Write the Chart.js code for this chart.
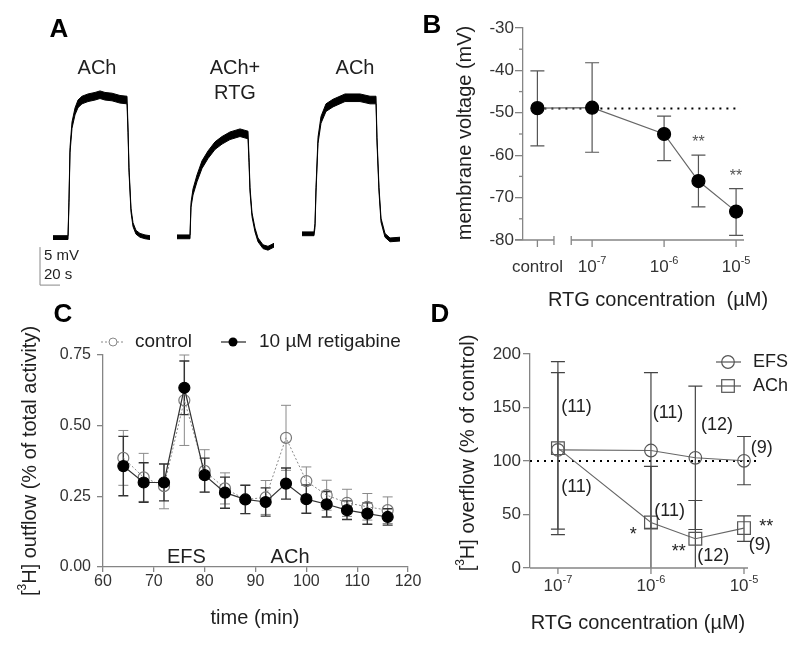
<!DOCTYPE html>
<html>
<head>
<meta charset="utf-8">
<title>Retigabine figure</title>
<script src="https://cdn.jsdelivr.net/npm/chart.js@4.4.1/dist/chart.umd.min.js"></script>
<style>
  body { margin: 0; background: #fff; }
  #fig { position: relative; width: 800px; height: 648px; }
  #fig canvas { position: absolute; left: 0; top: 0; }
</style>
</head>
<body>
<div id="fig">
  <canvas id="chartA" width="800" height="648"></canvas>
  <canvas id="chartB" width="800" height="648"></canvas>
  <canvas id="chartC" width="800" height="648"></canvas>
  <canvas id="chartD" width="800" height="648"></canvas>
</div>
<script>
const FONT = '"Liberation Sans", Arial, sans-serif'
const INK = '#1f1f1f'
const AXIS = '#858585'

// A: voltage traces, time (s) vs depolarisation from rest (mV); noise = half width of the trace band
const ach1Time = [23, 30, 38, 39, 40, 42, 45, 48, 52, 58, 65, 70, 75, 82, 90, 97, 98, 99, 101, 103, 106, 110, 115, 120]
const ach1Volt = [0, 0, 0, 4.9, 11.5, 14.8, 16.6, 17.6, 18.1, 18.4, 18.6, 18.8, 18.6, 18.5, 18.2, 18.1, 14.2, 8.9, 3.6, 1.7, 0.7, 0.3, 0.1, 0]
const ach1Noise = [0.25, 0.25, 0.25, 0.3, 0.35, 0.4, 0.45, 0.5, 0.5, 0.5, 0.5, 0.5, 0.5, 0.5, 0.5, 0.5, 0.35, 0.3, 0.25, 0.25, 0.25, 0.25, 0.25, 0.25]
const rtgTime = [147, 155, 160, 161, 163, 167, 172, 178, 185, 192, 200, 210, 218, 219, 220, 222, 225, 228, 233, 238, 244]
const rtgVolt = [0.1, 0.1, 0.1, 4.3, 6.0, 7.8, 9.6, 10.9, 12.1, 12.8, 13.4, 13.8, 13.5, 10.2, 6.3, 3.0, 1.0, -0.3, -1.2, -1.4, -1.0]
const rtgNoise = [0.25, 0.25, 0.25, 0.3, 0.4, 0.45, 0.5, 0.5, 0.5, 0.5, 0.5, 0.5, 0.5, 0.35, 0.3, 0.25, 0.25, 0.25, 0.25, 0.25, 0.25]
const ach2Time = [272, 280, 284, 285, 286, 288, 291, 296, 303, 315, 330, 340, 346, 347, 349, 351, 355, 360, 370]
const ach2Volt = [0.5, 0.5, 0.5, 1.6, 6.3, 12.8, 15.5, 17.1, 17.7, 18.4, 18.4, 18.1, 18.1, 12.8, 6.3, 2.3, 0.3, -0.3, -0.2]
const ach2Noise = [0.25, 0.25, 0.25, 0.25, 0.3, 0.4, 0.45, 0.5, 0.5, 0.5, 0.5, 0.5, 0.5, 0.35, 0.3, 0.25, 0.25, 0.25, 0.25]

// B: membrane voltage vs log10 RTG concentration (control drawn left of the axis break)
const bConcLog = [-7.76, -7, -6, -5.523, -5]
const bVolt = [-48.9, -48.8, -55.0, -66.1, -73.3]
const bHi = [-40.1, -38.2, -50.8, -60.0, -67.9]
const bLo = [-57.8, -59.3, -61.3, -72.2, -78.9]
const bTickPos = [-7.76, -7, -6, -5]
const bTickExp = ['', '-7', '-6', '-5']
const bStars = [['**', -5.523, -57.0], ['**', -5, -65.0]]

// C: [3H] outflow over time
const cTime = [64, 68, 72, 76, 80, 84, 88, 92, 96, 100, 104, 108, 112, 116]
const cControl = [0.386, 0.317, 0.286, 0.59, 0.34, 0.278, 0.239, 0.246, 0.457, 0.304, 0.254, 0.227, 0.213, 0.201]
const cControlSem = [0.097, 0.085, 0.08, 0.16, 0.075, 0.055, 0.05, 0.06, 0.115, 0.05, 0.053, 0.048, 0.047, 0.047]
const cRtg = [0.357, 0.299, 0.299, 0.634, 0.325, 0.263, 0.239, 0.23, 0.295, 0.24, 0.222, 0.201, 0.189, 0.177]
const cRtgSem = [0.105, 0.07, 0.065, 0.095, 0.06, 0.055, 0.05, 0.05, 0.055, 0.05, 0.045, 0.033, 0.038, 0.029]

// D: overflow (% of control) vs log10 RTG concentration
const dConcLog = [-7, -6, -5.523, -5]
const dEfs = [110.4, 109.8, 103, 100.2]
const dEfsHi = [192.8, 182.6, 170, 122.9]
const dEfsLo = [31.1, 37, 36, 77.8]
const dAch = [112, 42.6, 27.4, 37.3]
const dAchHi = [182.6, 94.9, 63.1, 48.8]
const dAchLo = [36.4, -9.7, -8.3, 24.9]
const dTickPos = [-7, -6, -5]
const dTickExp = ['-7', '-6', '-5']
const dNotes = [
  ['(11)', -6.80, 150.5], ['(11)', -6.80, 75.7], ['(11)', -5.817, 144.9], ['(12)', -5.29, 133.6],
  ['(9)', -4.81, 112.1], ['(11)', -5.80, 53.3], ['*', -6.19, 31.0], ['**', -5.70, 14.5],
  ['(12)', -5.33, 11.2], ['**', -4.76, 38.5], ['(9)', -4.83, 21.5]
]

function txt(ctx, s, x, y, size, opt = {}) {
  ctx.save()
  ctx.font = (opt.bold ? 'bold ' : '') + size + 'px ' + FONT
  ctx.fillStyle = opt.color || INK
  ctx.textAlign = opt.align || 'center'
  ctx.textBaseline = 'middle'
  ctx.fillText(s, x, y)
  ctx.restore()
}

// text with superscript pieces, optionally rotated to read bottom-up
function rich(ctx, parts, cx, cy, size, rotated, color) {
  ctx.save()
  ctx.translate(cx, cy)
  if (rotated) ctx.rotate(-Math.PI / 2)
  const font = (p) => (p.sup ? Math.round(size * 0.62) : size) + 'px ' + FONT
  let w = 0
  parts.forEach((p) => { ctx.font = font(p); w += ctx.measureText(p.t).width })
  let x = -w / 2
  ctx.fillStyle = color || INK
  ctx.textBaseline = 'middle'
  ctx.textAlign = 'left'
  parts.forEach((p) => {
    ctx.font = font(p)
    ctx.fillText(p.t, x, p.sup ? -size * 0.36 : 0)
    x += ctx.measureText(p.t).width
  })
  ctx.restore()
}

function errBars(ctx, xs, ys, xv, lo, hi, half, color, width) {
  ctx.save()
  ctx.strokeStyle = color
  ctx.lineWidth = width
  xv.forEach((v, i) => {
    const px = xs.getPixelForValue(v)
    const top = ys.getPixelForValue(hi[i])
    let bot = ys.getPixelForValue(lo[i])
    const capBottom = bot <= ys.bottom + 0.5
    bot = Math.min(bot, ys.bottom)
    ctx.beginPath()
    ctx.moveTo(px, top); ctx.lineTo(px, bot)
    ctx.moveTo(px - half, top); ctx.lineTo(px + half, top)
    if (capBottom) { ctx.moveTo(px - half, bot); ctx.lineTo(px + half, bot) }
    ctx.stroke()
  })
  ctx.restore()
}

function seg(ctx, x1, y1, x2, y2) {
  ctx.beginPath(); ctx.moveTo(x1, y1); ctx.lineTo(x2, y2); ctx.stroke()
}

const base = (padding) => ({
  responsive: false,
  animation: false,
  events: [],
  layout: { padding },
  plugins: { legend: { display: false }, tooltip: { enabled: false } }
})

// ---------------- A ----------------
function band(t, v, n) {
  const common = { borderColor: '#000', backgroundColor: '#000', borderWidth: 1, pointRadius: 0, tension: 0, clip: false }
  return [
    { ...common, data: t.map((x, i) => ({ x, y: v[i] + n[i] })), fill: '+1' },
    { ...common, data: t.map((x, i) => ({ x, y: v[i] - n[i] })), fill: false }
  ]
}

const annotA = {
  id: 'annotA',
  afterDraw(chart) {
    const { ctx, scales: { x, y } } = chart
    txt(ctx, 'A', 59, 30, 26, { bold: true, color: '#000' })
    txt(ctx, 'ACh', x.getPixelForValue(67), y.getPixelForValue(22.3), 20)
    txt(ctx, 'ACh+', x.getPixelForValue(205), y.getPixelForValue(22.3), 20)
    txt(ctx, 'RTG', x.getPixelForValue(205), y.getPixelForValue(19.0), 20)
    txt(ctx, 'ACh', x.getPixelForValue(325), y.getPixelForValue(22.3), 20)
    // scale bar: 5 mV / 20 s
    ctx.save()
    ctx.strokeStyle = '#888'
    ctx.lineWidth = 1
    const bx = x.getPixelForValue(10), by = y.getPixelForValue(-6.25)
    seg(ctx, bx, y.getPixelForValue(-1.25), bx, by)
    seg(ctx, bx, by, x.getPixelForValue(30), by)
    ctx.restore()
    txt(ctx, '5 mV', bx + 4, y.getPixelForValue(-2.45), 15, { align: 'left' })
    txt(ctx, '20 s', bx + 4, y.getPixelForValue(-4.95), 15, { align: 'left' })
  }
}

new Chart(document.getElementById('chartA'), {
  type: 'line',
  data: { datasets: [...band(ach1Time, ach1Volt, ach1Noise), ...band(rtgTime, rtgVolt, rtgNoise), ...band(ach2Time, ach2Volt, ach2Noise)] },
  options: {
    ...base({ left: 30, top: 40, right: 380, bottom: 648 - 298.4 }),
    scales: {
      x: { type: 'linear', display: false, min: 0, max: 390 },
      y: { display: false, min: -8, max: 26 }
    }
  },
  plugins: [annotA]
})

// ---------------- B ----------------
const annotB = {
  id: 'annotB',
  beforeDatasetsDraw(chart) {
    const { ctx, scales: { x, y } } = chart
    ctx.save()
    ctx.strokeStyle = '#000'
    ctx.lineWidth = 2
    ctx.setLineDash([2, 5])
    const ry = y.getPixelForValue(-49)
    seg(ctx, x.getPixelForValue(-7.76), ry, x.getPixelForValue(-4.94), ry)
    ctx.restore()
    errBars(ctx, x, y, bConcLog, bLo, bHi, 7, '#555', 1.2)
  },
  afterDraw(chart) {
    const { ctx, chartArea: a, scales: { x, y } } = chart
    ctx.save()
    ctx.strokeStyle = AXIS
    ctx.lineWidth = 1.3
    // minor y ticks
    for (let v = -75; v < -30; v += 10) {
      const py = y.getPixelForValue(v)
      seg(ctx, a.left - 4, py, a.left, py)
    }
    // broken x axis
    const b1 = x.getPixelForValue(-7.53), b2 = x.getPixelForValue(-7.29)
    seg(ctx, a.left - 8, a.bottom, b1, a.bottom)
    seg(ctx, b2, a.bottom, a.right, a.bottom)
    seg(ctx, b1, a.bottom - 4, b1, a.bottom + 5)
    seg(ctx, b2, a.bottom - 4, b2, a.bottom + 5)
    bTickPos.forEach((v) => {
      const px = x.getPixelForValue(v)
      seg(ctx, px, a.bottom, px, a.bottom + 7)
    })
    ctx.restore()
    bTickPos.forEach((v, i) => {
      const px = x.getPixelForValue(v)
      if (bTickExp[i]) rich(ctx, [{ t: '10' }, { t: bTickExp[i], sup: true }], px, a.bottom + 27, 17, false, '#333')
      else txt(ctx, 'control', px, a.bottom + 27, 17, { color: '#333' })
    })
    bStars.forEach(([s, vx, vy]) => txt(ctx, s, x.getPixelForValue(vx), y.getPixelForValue(vy), 16, { color: '#555' }))
    txt(ctx, 'B', 432, 26, 26, { bold: true, color: '#000' })
    rich(ctx, [{ t: 'membrane voltage (mV)' }], 465, 133, 20, true)
    txt(ctx, 'RTG concentration  (\u00b5M)', 658, 300, 20)
  }
}

new Chart(document.getElementById('chartB'), {
  type: 'line',
  data: {
    datasets: [{
      data: bConcLog.map((x, i) => ({ x, y: bVolt[i] })),
      borderColor: '#666', borderWidth: 1.2, tension: 0, clip: false,
      pointRadius: 6.5, pointBackgroundColor: '#000', pointBorderColor: '#000'
    }]
  },
  options: {
    ...base({ left: 523 - 60, top: 28, right: 800 - 744, bottom: 648 - 240 }),
    scales: {
      x: { type: 'linear', display: false, min: -7.96, max: -4.89 },
      y: {
        min: -80, max: -30,
        afterFit: (s) => { s.width = 60 },
        ticks: { stepSize: 10, padding: 1, color: '#333', font: { family: FONT, size: 17 } },
        grid: { drawOnChartArea: false, color: AXIS, tickLength: 8, lineWidth: 1.3 },
        border: { color: AXIS, width: 1.3 }
      }
    }
  },
  plugins: [annotB]
})

// ---------------- C ----------------
const annotC = {
  id: 'annotC',
  beforeDatasetsDraw(chart) {
    const { ctx, scales: { x, y } } = chart
    errBars(ctx, x, y, cTime, cControl.map((v, i) => v - cControlSem[i]), cControl.map((v, i) => v + cControlSem[i]), 5, '#8a8a8a', 1)
    errBars(ctx, x, y, cTime, cRtg.map((v, i) => v - cRtgSem[i]), cRtg.map((v, i) => v + cRtgSem[i]), 5, '#333', 1.4)
  },
  afterDraw(chart) {
    const { ctx, scales: { x, y } } = chart
    txt(ctx, 'EFS', x.getPixelForValue(76.4), y.getPixelForValue(0.035), 20)
    txt(ctx, 'ACh', x.getPixelForValue(96.8), y.getPixelForValue(0.035), 20)
    txt(ctx, 'C', 63, 315, 26, { bold: true, color: '#000' })
    rich(ctx, [{ t: '[' }, { t: '3', sup: true }, { t: 'H] outflow (% of total activity)' }], 30, 461, 20, true)
    txt(ctx, 'time (min)', 255, 618, 20)
    // legend
    ctx.save()
    ctx.strokeStyle = '#888'
    ctx.lineWidth = 1
    ctx.setLineDash([2, 2])
    seg(ctx, 101, 342, 124, 342)
    ctx.setLineDash([])
    ctx.fillStyle = '#fff'
    ctx.beginPath(); ctx.arc(113, 342, 4, 0, Math.PI * 2); ctx.fill(); ctx.stroke()
    ctx.strokeStyle = '#333'
    ctx.lineWidth = 1.3
    seg(ctx, 221, 342, 246, 342)
    ctx.fillStyle = '#000'
    ctx.beginPath(); ctx.arc(233, 342, 4.5, 0, Math.PI * 2); ctx.fill()
    ctx.restore()
    txt(ctx, 'control', 135, 342, 19, { align: 'left' })
    txt(ctx, '10 \u00b5M retigabine', 259, 342, 19, { align: 'left' })
  }
}

new Chart(document.getElementById('chartC'), {
  type: 'line',
  data: {
    datasets: [
      {
        data: cTime.map((x, i) => ({ x, y: cRtg[i] })),
        borderColor: '#333', borderWidth: 1.2, tension: 0, clip: false,
        pointRadius: 5.5, pointBackgroundColor: '#000', pointBorderColor: '#000'
      },
      {
        data: cTime.map((x, i) => ({ x, y: cControl[i] })),
        borderColor: '#8a8a8a', borderWidth: 1, borderDash: [2, 2], tension: 0, clip: false,
        pointRadius: 5.5, pointBackgroundColor: 'rgba(255,255,255,0)', pointBorderColor: '#777', pointBorderWidth: 1.2
      }
    ]
  },
  options: {
    ...base({ left: 103 - 60, top: 355, right: 800 - 408, bottom: 648 - 567 - 40 }),
    scales: {
      x: {
        type: 'linear', min: 60, max: 120,
        afterFit: (s) => { s.height = 40 },
        ticks: { stepSize: 10, padding: 0, color: '#333', font: { family: FONT, size: 16 } },
        grid: { drawOnChartArea: false, color: AXIS, tickLength: 5, lineWidth: 1.3 },
        border: { color: AXIS, width: 1.3 }
      },
      y: {
        min: 0, max: 0.75,
        afterFit: (s) => { s.width = 60 },
        ticks: { stepSize: 0.25, padding: 6, color: '#333', font: { family: FONT, size: 16 }, callback: (v) => v.toFixed(2) },
        grid: { drawOnChartArea: false, color: AXIS, tickLength: 6, lineWidth: 1.3 },
        border: { color: AXIS, width: 1.3 }
      }
    }
  },
  plugins: [annotC]
})

// ---------------- D ----------------
const annotD = {
  id: 'annotD',
  beforeDatasetsDraw(chart) {
    const { ctx, chartArea: a, scales: { x, y } } = chart
    ctx.save()
    ctx.strokeStyle = '#000'
    ctx.lineWidth = 2
    ctx.setLineDash([2, 5])
    const ry = y.getPixelForValue(100)
    seg(ctx, a.left, ry, a.right + 10, ry)
    ctx.restore()
    errBars(ctx, x, y, dConcLog, dEfsLo, dEfsHi, 7, '#444', 1.2)
    errBars(ctx, x, y, dConcLog, dAchLo, dAchHi, 7, '#444', 1.2)
  },
  afterDraw(chart) {
    const { ctx, chartArea: a, scales: { x, y } } = chart
    ctx.save()
    ctx.strokeStyle = AXIS
    ctx.lineWidth = 1.3
    seg(ctx, a.left, a.bottom, a.right, a.bottom)
    dTickPos.forEach((v) => {
      const px = x.getPixelForValue(v)
      seg(ctx, px, a.bottom, px, a.bottom + 6)
    })
    ctx.restore()
    dTickPos.forEach((v, i) => {
      rich(ctx, [{ t: '10' }, { t: dTickExp[i], sup: true }], x.getPixelForValue(v), a.bottom + 18, 17, false, '#333')
    })
    dNotes.forEach(([s, vx, vy]) => txt(ctx, s, x.getPixelForValue(vx), y.getPixelForValue(vy), 18, { color: '#222' }))
    txt(ctx, 'D', 440, 315, 26, { bold: true, color: '#000' })
    rich(ctx, [{ t: '[' }, { t: '3', sup: true }, { t: 'H] overflow (% of control)' }], 468, 453, 20, true)
    txt(ctx, 'RTG concentration (\u00b5M)', 638, 623, 20)
    // legend
    ctx.save()
    ctx.strokeStyle = '#555'
    ctx.lineWidth = 1.2
    seg(ctx, 716, 362, 741, 362)
    ctx.beginPath(); ctx.arc(728, 362, 6.3, 0, Math.PI * 2); ctx.stroke()
    seg(ctx, 716, 386, 741, 386)
    ctx.strokeRect(728 - 6.3, 386 - 6.3, 12.6, 12.6)
    ctx.restore()
    txt(ctx, 'EFS', 753, 362, 18, { align: 'left' })
    txt(ctx, 'ACh', 753, 386, 18, { align: 'left' })
  }
}

new Chart(document.getElementById('chartD'), {
  type: 'line',
  data: {
    datasets: [
      {
        data: dConcLog.map((x, i) => ({ x, y: dEfs[i] })),
        borderColor: '#666', borderWidth: 1.1, tension: 0, clip: false,
        pointStyle: 'circle', pointRadius: 6.3, pointBackgroundColor: 'rgba(255,255,255,0)', pointBorderColor: '#555', pointBorderWidth: 1.2
      },
      {
        data: dConcLog.map((x, i) => ({ x, y: dAch[i] })),
        borderColor: '#666', borderWidth: 1.1, tension: 0, clip: false,
        pointStyle: 'rect', pointRadius: 9, pointBackgroundColor: 'rgba(255,255,255,0)', pointBorderColor: '#555', pointBorderWidth: 1.2
      }
    ]
  },
  options: {
    ...base({ left: 530 - 60, top: 354, right: 800 - 748, bottom: 648 - 568 }),
    scales: {
      x: { type: 'linear', display: false, min: -7.30, max: -4.957 },
      y: {
        min: 0, max: 200,
        afterFit: (s) => { s.width = 60 },
        ticks: { stepSize: 50, padding: 2, color: '#333', font: { family: FONT, size: 17 } },
        grid: { drawOnChartArea: false, color: AXIS, tickLength: 7, lineWidth: 1.3 },
        border: { color: AXIS, width: 1.3 }
      }
    }
  },
  plugins: [annotD]
})
</script>
</body>
</html>
